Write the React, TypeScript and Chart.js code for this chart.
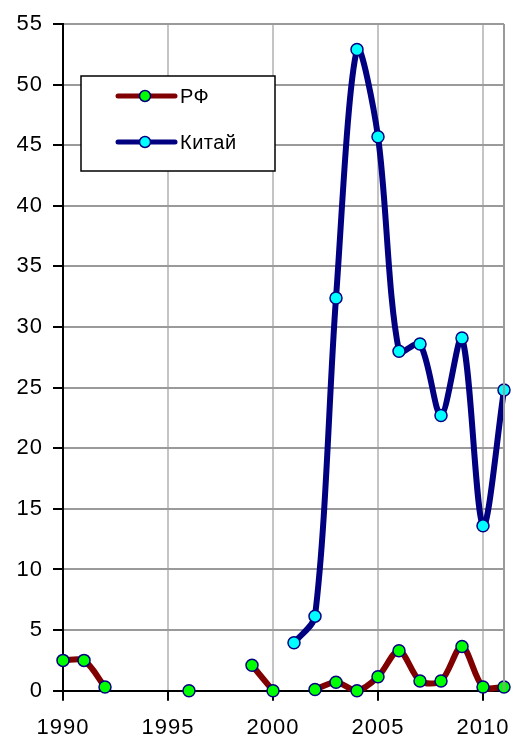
import { useEffect, useRef } from 'react';
import { Chart, registerables } from 'chart.js';

Chart.register(...registerables);

const years = [1990, 1991, 1992, 1993, 1994, 1995, 1996, 1997, 1998, 1999, 2000, 2001, 2002, 2003, 2004, 2005, 2006, 2007, 2008, 2009, 2010, 2011];
const rfValues: (number | null)[] = [2.5, 2.5, 0.3, null, null, null, 0.0, null, null, 2.1, 0.0, null, 0.1, 0.7, 0.0, 1.15, 3.3, 0.8, 0.8, 3.65, 0.3, 0.3];
const chinaValues: (number | null)[] = [null, null, null, null, null, null, null, null, null, null, null, 3.95, 6.15, 32.4, 52.9, 45.7, 28.0, 28.6, 22.7, 29.1, 13.6, 24.8];
const xTickValues = [1990, 1995, 2000, 2005, 2010];
const seriesNames = ['РФ', 'Китай'];

const FONT = '"Liberation Sans", Arial, sans-serif';

const spacingPlugin = {
  id: 'spacing',
  beforeDraw(chart: any) {
    (chart.ctx as any).letterSpacing = '1px';
  },
};

const legendPlugin = {
  id: 'boxLegend',
  afterDraw(chart: any) {
    const ctx = chart.ctx;
    ctx.save();
    const ca = chart.chartArea;
    ctx.strokeStyle = '#9a9a9a';
    ctx.lineWidth = 2;
    ctx.beginPath();
    ctx.moveTo(ca.right, ca.top);
    ctx.lineTo(ca.right, ca.bottom);
    ctx.stroke();

    const bx = 81, by = 76, bw = 194, bh = 95;
    ctx.fillStyle = '#ffffff';
    ctx.fillRect(bx, by, bw, bh);
    ctx.strokeStyle = '#000000';
    ctx.lineWidth = 1.5;
    ctx.strokeRect(bx, by, bw, bh);
    const items = chart.data.datasets;
    const rows = [96, 142];
    items.forEach((ds: any, i: number) => {
      const y = rows[i];
      ctx.strokeStyle = ds.borderColor;
      ctx.lineWidth = 5;
      ctx.lineCap = 'round';
      ctx.beginPath();
      ctx.moveTo(118, y);
      ctx.lineTo(175, y);
      ctx.stroke();
      ctx.beginPath();
      ctx.arc(145, y, 5.5, 0, Math.PI * 2);
      ctx.fillStyle = ds.pointBackgroundColor;
      ctx.fill();
      ctx.lineWidth = 1.5;
      ctx.strokeStyle = ds.pointBorderColor;
      ctx.stroke();
      ctx.fillStyle = '#000000';
      (ctx as any).letterSpacing = '0.5px';
      ctx.font = `20px ${FONT}`;
      ctx.textBaseline = 'middle';
      ctx.textAlign = 'left';
      ctx.fillText(ds.label, 180, y + 1);
    });
    ctx.restore();
  },
};

export default function App() {
  const ref = useRef<HTMLCanvasElement | null>(null);
  useEffect(() => {
    document.body.style.margin = '0';
    const canvas = ref.current!;
    const toPts = (vals: (number | null)[]) => years.map((yr, i) => ({ x: yr, y: vals[i] }));
    const chart = new Chart(canvas, {
      type: 'line',
      data: {
        datasets: [
          {
            label: seriesNames[0],
            data: toPts(rfValues) as any,
            borderColor: '#800000',
            borderWidth: 6,
            pointBackgroundColor: '#00ff00',
            pointBorderColor: '#000080',
            pointBorderWidth: 1.5,
            pointRadius: 6,
            tension: 0.3,
            spanGaps: false,
            clip: false as any,
          },
          {
            label: seriesNames[1],
            data: toPts(chinaValues) as any,
            borderColor: '#000080',
            borderWidth: 6,
            pointBackgroundColor: '#00ffff',
            pointBorderColor: '#000080',
            pointBorderWidth: 1.5,
            pointRadius: 6,
            tension: 0.3,
            spanGaps: false,
            clip: false as any,
          },
        ],
      },
      options: {
        responsive: false,
        animation: false,
        devicePixelRatio: 1,
        layout: { padding: { left: 0, top: 24, right: 9, bottom: 0 } },
        plugins: { legend: { display: false }, tooltip: { enabled: false } },
        scales: {
          x: {
            type: 'linear',
            min: 1990,
            max: 2011,
            afterBuildTicks: (scale: any) => {
              scale.ticks = xTickValues.map((v) => ({ value: v }));
            },
            afterFit: (scale: any) => {
              scale.height = 44.3;
              scale.paddingLeft = 0;
              scale.paddingRight = 0;
            },
            ticks: {
              font: { family: FONT, size: 22 },
              color: '#000000',
              padding: 14,
              maxRotation: 0,
              callback: (v: any) => String(v),
            },
            grid: {
              color: (c: any) => (c.tick && c.tick.value === 1990 ? 'rgba(0,0,0,0)' : '#c4c4c4'),
              lineWidth: 2,
              tickColor: '#000000',
              tickLength: 10,
              tickWidth: 2,
            },
            border: { color: '#000000', width: 2 },
          },
          y: {
            min: 0,
            max: 55,
            ticks: {
              stepSize: 5,
              font: { family: FONT, size: 22 },
              color: '#000000',
              padding: 10,
            },
            afterFit: (scale: any) => {
              scale.width = 63;
              scale.paddingTop = 0;
              scale.paddingBottom = 0;
            },
            grid: {
              color: (c: any) => (c.tick && c.tick.value === 0 ? 'rgba(0,0,0,0)' : '#9a9a9a'),
              lineWidth: 2,
              tickColor: '#000000',
              tickLength: 10,
              tickWidth: 2,
            },
            border: { color: '#000000', width: 2 },
          },
        },
      },
      plugins: [spacingPlugin, legendPlugin],
    });
    return () => chart.destroy();
  }, []);
  return (
    <div style={{ position: 'fixed', left: 0, top: 0, width: 513, height: 735, background: '#fff' }}>
      <canvas ref={ref} width={513} height={735} />
    </div>
  );
}
